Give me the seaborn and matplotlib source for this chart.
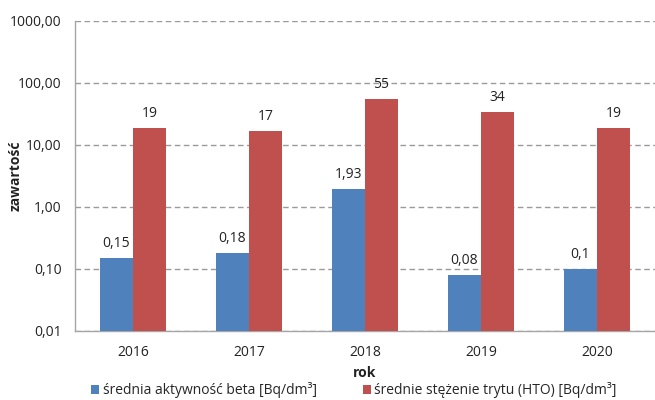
import numpy as np
import pandas as pd
import matplotlib
matplotlib.use("Agg")
import matplotlib.pyplot as plt
import matplotlib.ticker as mticker
import seaborn as sns

# data
years = ["2016", "2017", "2018", "2019", "2020"]
beta = [0.15, 0.18, 1.93, 0.08, 0.1]
tritium = [19, 17, 55, 34, 19]
series_names = ["średnia aktywność beta [Bq/dm³]",
                "średnie stężenie trytu (HTO) [Bq/dm³]"]
y_ticks = [0.01, 0.1, 1, 10, 100, 1000]

df = pd.DataFrame({
    "rok": years * 2,
    "wartosc": beta + tritium,
    "seria": [series_names[0]] * len(years) + [series_names[1]] * len(years),
})

sns.set_style("white")
plt.rcParams["font.family"] = ["Open Sans", "DejaVu Sans"]
fs = 10

fig = plt.figure(figsize=(6.55, 4.0), dpi=100)
ax = fig.add_axes([0.1145, 0.1725, 0.8855, 0.775])

ax.set_yscale("log")
sns.barplot(data=df, x="rok", y="wartosc", hue="seria", ax=ax,
            palette=["#4F81BD", "#C0504D"], width=0.57, saturation=1,
            errorbar=None, linewidth=0, zorder=3)

ax.set_ylim(0.01, 1000)
ax.set_xlim(-0.5, len(years) - 0.5)
ax.set_yticks(y_ticks)
ax.yaxis.set_major_formatter(mticker.FuncFormatter(lambda v, p: f"{v:.2f}".replace(".", ",")))
ax.yaxis.set_minor_locator(mticker.NullLocator())
ax.grid(axis="y", color="#9A9A9A", linestyle=(0, (4, 2.5)), linewidth=1, zorder=0)

# category separators as small ticks
ax.set_xticks(np.arange(-0.5, len(years)), minor=True)
ax.tick_params(axis="x", which="major", length=0, pad=10, labelcolor="#222222", labelsize=fs)
ax.tick_params(axis="x", which="minor", length=3.6, color="#A6A6A6", width=1)
ax.tick_params(axis="y", which="major", length=3.6, pad=6, color="#A6A6A6", width=1,
               labelcolor="#222222", labelsize=fs)

for side in ["top", "right"]:
    ax.spines[side].set_visible(False)
for side in ["left", "bottom"]:
    ax.spines[side].set_color("#A6A6A6")
    ax.spines[side].set_linewidth(1)

# value labels above the bars
for cont in ax.containers:
    labels = [f"{v:g}".replace(".", ",") for v in cont.datavalues]
    ax.bar_label(cont, labels=labels, padding=5, fontsize=fs, color="#222222")

ax.set_xlabel("rok", fontweight="bold", fontsize=fs, color="#222222")
ax.set_ylabel("zawartość", fontweight="bold", fontsize=fs, color="#222222")
ax.xaxis.set_label_coords(0.5, -0.135)
ax.xaxis.label.set_va("center")
ax.yaxis.set_label_coords(-0.103, 0.5)
ax.yaxis.label.set_va("center")
ax.yaxis.label.set_ha("center")

ax.legend(loc="center left", bbox_to_anchor=(91 / 655, 1 - 390 / 400),
          bbox_transform=fig.transFigure, ncol=2, frameon=False,
          handlelength=0.6, handleheight=0.6, handletextpad=0.25, columnspacing=3.3,
          fontsize=fs, borderpad=0, borderaxespad=0)

fig.savefig("out.png", dpi=100)
